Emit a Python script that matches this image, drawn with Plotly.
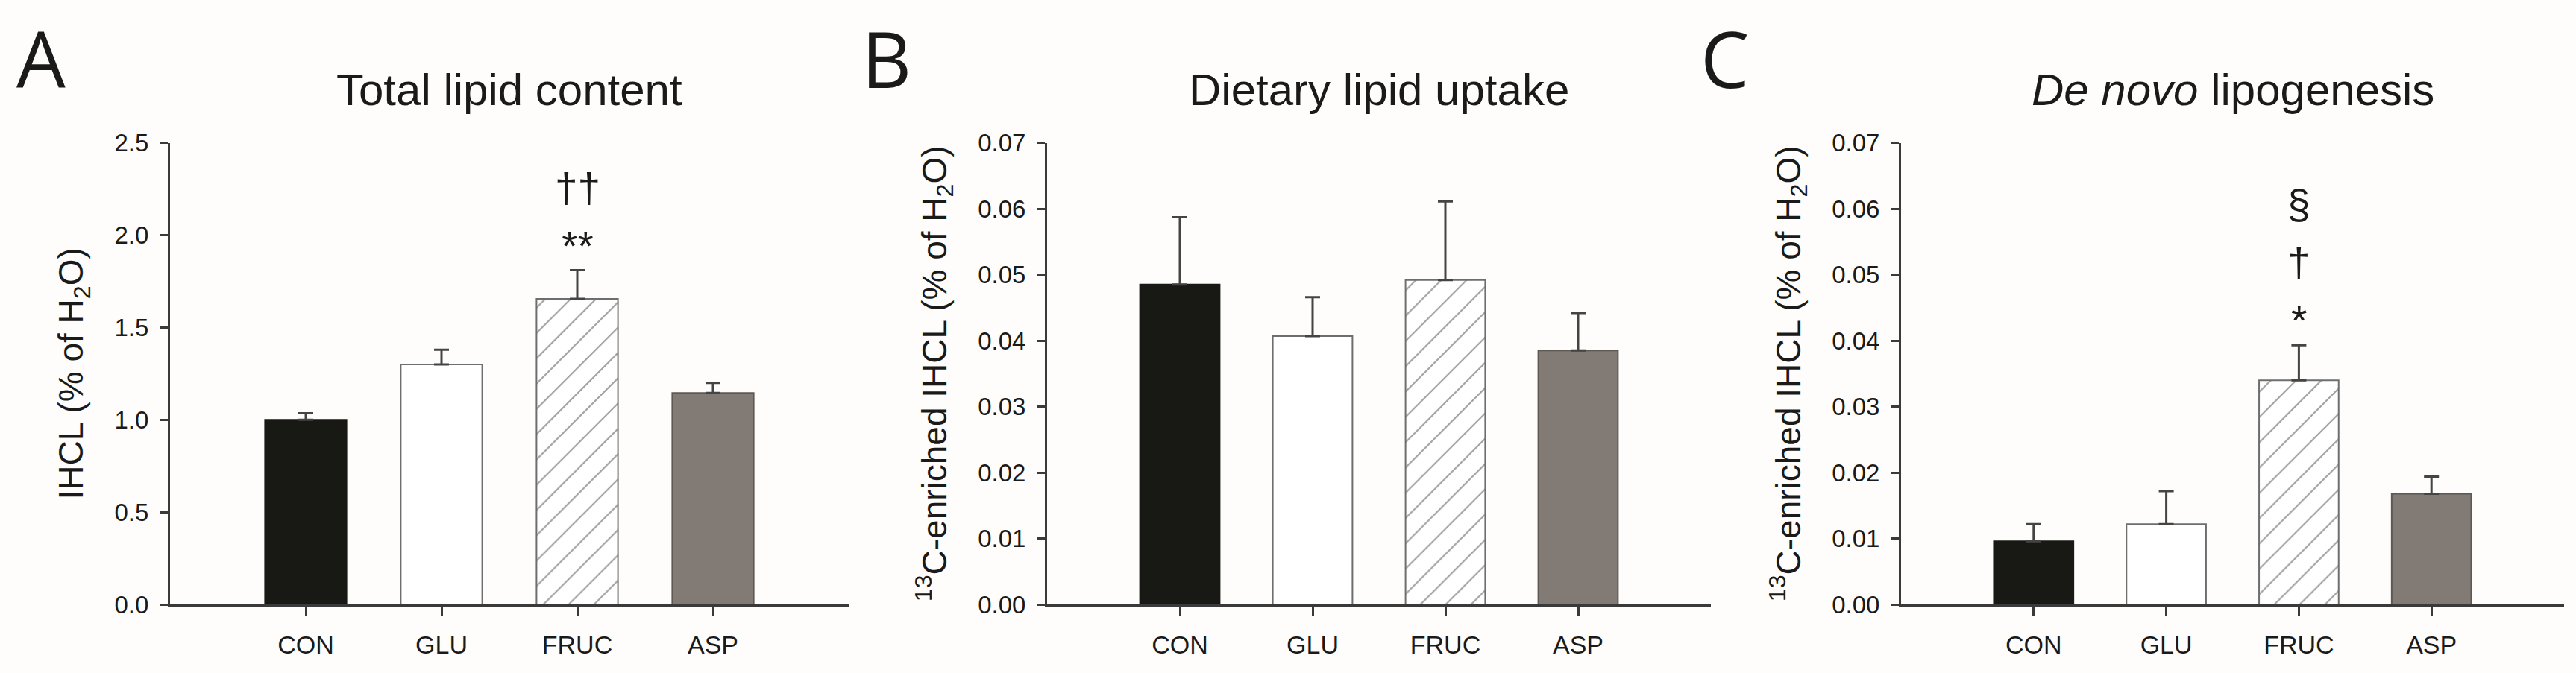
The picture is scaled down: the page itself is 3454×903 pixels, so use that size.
import plotly.graph_objects as go

groups = ["CON", "GLU", "FRUC", "ASP"]

# A: total lipid content, IHCL (% of H2O), mean and SEM
total_mean = [1.00, 1.30, 1.655, 1.145]
total_sem = [0.035, 0.08, 0.155, 0.055]

# B: dietary lipid uptake, 13C-enriched IHCL (% of H2O)
dietary_mean = [0.0485, 0.0407, 0.0492, 0.0385]
dietary_sem = [0.0102, 0.0059, 0.0119, 0.0057]

# C: de novo lipogenesis, 13C-enriched IHCL (% of H2O)
dnl_mean = [0.0096, 0.0122, 0.0340, 0.0168]
dnl_sem = [0.0026, 0.0050, 0.0053, 0.0026]

# significance marks over FRUC, bottom to top
marks_total = ["**", "††"]
marks_dnl = ["*", "†", "§"]

W, H = 3454, 903
FONT = "Liberation Sans, Arial, sans-serif"
INK = "#1a1a1a"
AXC = "#3a3a3a"

fill_colors = ["#181814", "white", "white", "#817a75"]
line_colors = ["#181814", "#6e6e6e", "#6e6e6e", "#5e5853"]
patterns = ["", "", "/", ""]


def px_x(p):
    return p / W


def px_y(p):
    return 1 - p / H


panels = [
    dict(mean=total_mean, sem=total_sem, x0=228, x1=1138, yr=[0, 2.5], dt=0.5,
         fmt=".1f", ytitle="IHCL (% of H<sub>2</sub>O)",
         title="Total lipid content", letter="A", letter_x=20, marks=marks_total),
    dict(mean=dietary_mean, sem=dietary_sem, x0=1404, x1=2294, yr=[0, 0.07], dt=0.01,
         fmt=".2f", ytitle="<sup>13</sup>C-enriched IHCL (% of H<sub>2</sub>O)",
         title="Dietary lipid uptake", letter="B", letter_x=1153, marks=[]),
    dict(mean=dnl_mean, sem=dnl_sem, x0=2549, x1=3438, yr=[0, 0.07], dt=0.01,
         fmt=".2f", ytitle="<sup>13</sup>C-enriched IHCL (% of H<sub>2</sub>O)",
         title="<i>De novo</i> lipogenesis", letter="C", letter_x=2278, marks=marks_dnl),
]

fig = go.Figure()
annotations = []
layout = {}

for i, p in enumerate(panels):
    n = "" if i == 0 else str(i + 1)
    fig.add_trace(go.Bar(
        x=groups, y=p["mean"], width=0.6,
        xaxis="x" + n, yaxis="y" + n,
        marker=dict(color=fill_colors, line=dict(color=line_colors, width=2),
                    pattern=dict(shape=patterns, fgcolor="#777777", bgcolor="white",
                                 size=24, solidity=0.09)),
        error_y=dict(type="data", symmetric=False, array=p["sem"],
                     arrayminus=[0] * len(groups), color="#444444",
                     thickness=3, width=10),
        showlegend=False,
    ))

    dom_x = [px_x(p["x0"]), px_x(p["x1"])]
    layout["xaxis" + n] = dict(
        domain=dom_x, anchor="y" + n, type="category", range=[-1, 4],
        showline=True, linecolor=AXC, linewidth=3, ticks="outside", ticklen=12,
        tickwidth=2.5, tickcolor=AXC, ticklabelstandoff=10,
        tickfont=dict(family=FONT, size=34, color=INK), showgrid=False, zeroline=False,
    )
    layout["yaxis" + n] = dict(
        domain=[px_y(827), px_y(181)], anchor="x" + n, range=p["yr"],
        dtick=p["dt"], tick0=0, tickformat=p["fmt"],
        showline=True, linecolor=AXC, linewidth=3, ticks="outside", ticklen=11,
        tickwidth=2.5, tickcolor=AXC, ticklabelstandoff=8,
        tickfont=dict(family=FONT, size=33, color=INK), showgrid=False, zeroline=False,
        title=dict(text=p["ytitle"], font=dict(family=FONT, size=46, color=INK),
                   standoff=28),
    )

    # panel title and letter
    annotations.append(dict(
        text=p["title"], x=sum(dom_x) / 2, y=px_y(107), xref="paper", yref="paper",
        xanchor="center", yanchor="middle", showarrow=False,
        font=dict(family=FONT, size=60, color=INK),
    ))
    annotations.append(dict(
        text=p["letter"], x=px_x(p["letter_x"]), y=px_y(62), xref="paper", yref="paper",
        xanchor="left", yanchor="middle", showarrow=False,
        font=dict(family="Open Sans, sans-serif", size=104, color=INK),
    ))

    # significance symbols stacked above the FRUC error bar
    for k, m in enumerate(p["marks"]):
        annotations.append(dict(
            text=m, x="FRUC", y=p["mean"][2] + p["sem"][2],
            xref="x" + n, yref="y" + n, xanchor="center", yanchor="middle",
            yshift=33 + 78 * k, showarrow=False,
            font=dict(family=FONT, size=55, color=INK),
        ))

fig.update_layout(
    width=W, height=H,
    margin=dict(l=0, r=0, t=0, b=0),
    paper_bgcolor="#fefdfb", plot_bgcolor="#fefdfb",
    bargap=0.4,
    annotations=annotations,
    **layout,
)

fig.write_html("out.html", config={"displayModeBar": False},
               post_script="document.body.style.margin='0';")
